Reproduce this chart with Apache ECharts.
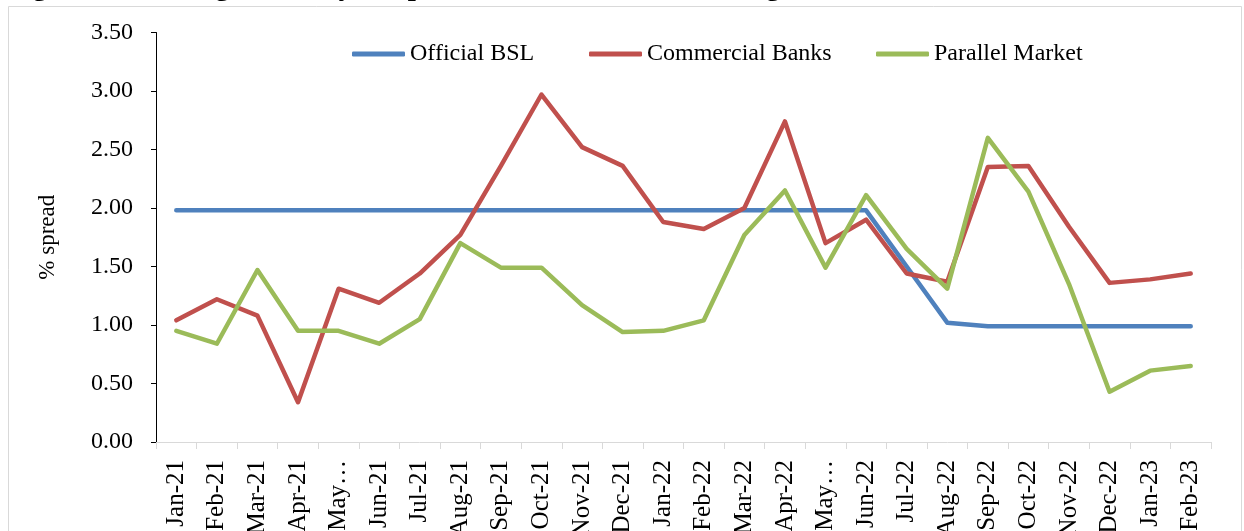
<!DOCTYPE html>
<html>
<head>
<meta charset="utf-8">
<script src="https://cdn.jsdelivr.net/npm/echarts@6/dist/echarts.min.js"></script>
<style>
  html, body { margin: 0; padding: 0; background: #fff; }
  #chart { width: 1244px; height: 531px; }
</style>
</head>
<body>
<div id="chart"></div>
<script>
// Month labels along the bottom axis
var months = ['Jan-21','Feb-21','Mar-21','Apr-21','May…','Jun-21','Jul-21','Aug-21','Sep-21','Oct-21','Nov-21','Dec-21',
              'Jan-22','Feb-22','Mar-22','Apr-22','May…','Jun-22','Jul-22','Aug-22','Sep-22','Oct-22','Nov-22','Dec-22',
              'Jan-23','Feb-23'];

// Average monthly % spread per market
var officialBSL = [1.98,1.98,1.98,1.98,1.98,1.98,1.98,1.98,1.98,1.98,1.98,1.98,
                   1.98,1.98,1.98,1.98,1.98,1.98,1.50,1.02,0.99,0.99,0.99,0.99,
                   0.99,0.99];
var commercialBanks = [1.04,1.22,1.08,0.34,1.31,1.19,1.44,1.77,2.36,2.97,2.52,2.36,
                       1.88,1.82,2.00,2.74,1.70,1.90,1.44,1.37,2.35,2.36,1.84,1.36,
                       1.39,1.44];
var parallelMarket = [0.95,0.84,1.47,0.95,0.95,0.84,1.05,1.70,1.49,1.49,1.17,0.94,
                      0.95,1.04,1.77,2.15,1.49,2.11,1.65,1.31,2.60,2.14,1.35,0.43,
                      0.61,0.65];

// Y axis ticks
var yMin = 0, yMax = 3.5, yStep = 0.5;

var serif = "'Liberation Serif', 'Times New Roman', serif";
var colors = { official: '#4F81BD', commercial: '#C0504D', parallel: '#9BBB59' };

function legendFor(name, left) {
  return {
    left: left, top: 42, padding: 0,
    data: [name],
    icon: 'roundRect',
    itemWidth: 53, itemHeight: 5,
    selectedMode: false,
    textStyle: { fontFamily: serif, fontSize: 24, color: '#000' }
  };
}

function lineSeries(name, data, color) {
  return {
    name: name, type: 'line', data: data,
    symbol: 'none', smooth: false, animation: false,
    lineStyle: { width: 4.5, color: color, cap: 'round', join: 'round' },
    itemStyle: { color: color }
  };
}

var chart = echarts.init(document.getElementById('chart'), null, { renderer: 'canvas' });
chart.setOption({
  backgroundColor: '#fff',
  animation: false,
  graphic: [
    { type: 'rect', shape: { x: 8.5, y: 6.5, width: 1233, height: 540 },
      style: { fill: 'none', stroke: '#d9d9d9', lineWidth: 1 }, silent: true },
    // figure caption, sitting just above the frame
    { type: 'text', x: 7, y: -27,
      style: { text: 'Figure 30: Average monthly % spread in the different exchange rate markets',
               font: 'bold 29px ' + serif, fill: '#000', verticalAlign: 'top', align: 'left' },
      silent: true }
  ],
  legend: [
    legendFor('Official BSL', 352),
    legendFor('Commercial Banks', 589),
    legendFor('Parallel Market', 876)
  ],
  grid: { left: 156, right: 33, top: 32.5, bottom: 89, containLabel: false, outerBoundsMode: 'none' },
  xAxis: {
    type: 'category',
    data: months,
    boundaryGap: true,
    axisLine: { lineStyle: { color: '#d9d9d9', width: 1 } },
    axisTick: { show: true, length: 7, alignWithLabel: false, lineStyle: { color: '#d9d9d9' } },
    axisLabel: { rotate: 90, interval: 0, margin: 18, fontFamily: serif, fontSize: 25, color: '#000' },
    splitLine: { show: false }
  },
  yAxis: {
    type: 'value',
    min: yMin, max: yMax, interval: yStep,
    name: '% spread',
    nameLocation: 'middle',
    nameGap: 97,
    nameRotate: 90,
    nameTextStyle: { fontFamily: serif, fontSize: 23, color: '#000' },
    axisLine: { show: true, lineStyle: { color: '#000', width: 1 } },
    axisTick: { show: true, length: 5, lineStyle: { color: '#000' } },
    axisLabel: { margin: 23, fontFamily: serif, fontSize: 24, color: '#000',
                 formatter: function (v) { return v.toFixed(2); } },
    splitLine: { show: false }
  },
  series: [
    lineSeries('Official BSL', officialBSL, colors.official),
    lineSeries('Commercial Banks', commercialBanks, colors.commercial),
    lineSeries('Parallel Market', parallelMarket, colors.parallel)
  ]
});
</script>
</body>
</html>
